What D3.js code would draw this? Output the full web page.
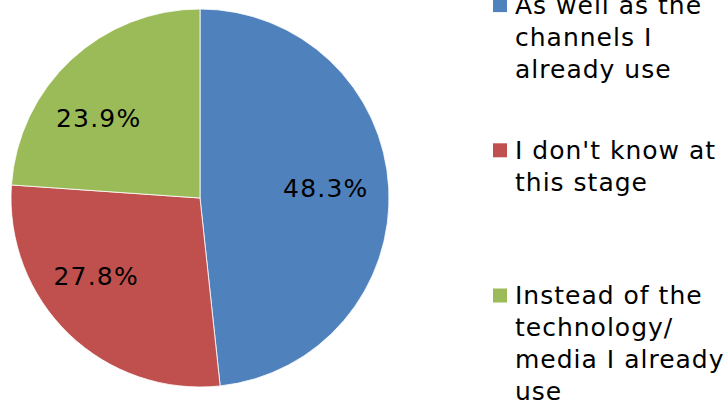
<!DOCTYPE html>
<html>
<head>
<meta charset="utf-8">
<script src="https://cdn.jsdelivr.net/npm/d3@7"></script>
<style>
  html, body { margin: 0; padding: 0; background: #fff; }
  svg { display: block; }
  text { font-family: "DejaVu Sans", Verdana, sans-serif; fill: #000; }
</style>
</head>
<body>
<svg id="chart" width="728" height="402"></svg>
<script>
// Survey answers, in clockwise order from 12 o'clock
const categories = [
  "As well as the channels I already use",
  "I don't know at this stage",
  "Instead of the technology/ media I already use"
];
const values = [48.3, 27.8, 23.9];
const colors = ["#4F81BD", "#C0504D", "#9BBB59"];

// Wrapped legend lines for each category
const legendLines = [
  ["As well as the", "channels I", "already use"],
  ["I don't know at", "this stage"],
  ["Instead of the", "technology/", "media I already", "use"]
];

// Small nudges (px) applied to each label after placing it at the slice centroid
const labelNudge = [[-2, -3], [-15, -14], [-14, 14]];

const svg = d3.select("#chart");
const cx = 200, cy = 198, radius = 189, labelRadius = 128;

const pie = d3.pie().sort(null).value(d => d);
const arcs = pie(values);
const arc = d3.arc().innerRadius(0).outerRadius(radius);
const labelArc = d3.arc().innerRadius(labelRadius).outerRadius(labelRadius);

const g = svg.append("g").attr("transform", `translate(${cx},${cy})`);

g.selectAll("path.slice")
  .data(arcs)
  .join("path")
  .attr("class", "slice")
  .attr("d", arc)
  .attr("fill", (d, i) => colors[i])
  .attr("stroke", "#ffffff")
  .attr("stroke-width", 0.8);

g.selectAll("text.value")
  .data(arcs)
  .join("text")
  .attr("class", "value")
  .attr("text-anchor", "middle")
  .attr("font-size", 25)
  .attr("letter-spacing", 1.2)
  .attr("x", (d, i) => labelArc.centroid(d)[0] + labelNudge[i][0])
  .attr("y", (d, i) => labelArc.centroid(d)[1] + labelNudge[i][1])
  .attr("dy", "0.36em")
  .text(d => d3.format(".1f")(d.data) + "%");

// Legend
const legendX = 493, legendTop = 13.6, itemGap = 145.2, lineHeight = 32;
const legend = svg.append("g");
legendLines.forEach((lines, i) => {
  const base = legendTop + i * itemGap;
  legend.append("rect")
    .attr("x", legendX)
    .attr("y", base - 15.5)
    .attr("width", 14)
    .attr("height", 14)
    .attr("fill", colors[i]);
  const t = legend.append("text")
    .attr("font-size", 25)
    .attr("letter-spacing", 1)
    .attr("x", legendX + 22)
    .attr("y", base);
  lines.forEach((line, j) => {
    t.append("tspan")
      .attr("x", legendX + 22)
      .attr("y", base + j * lineHeight)
      .text(line);
  });
});
</script>
</body>
</html>
